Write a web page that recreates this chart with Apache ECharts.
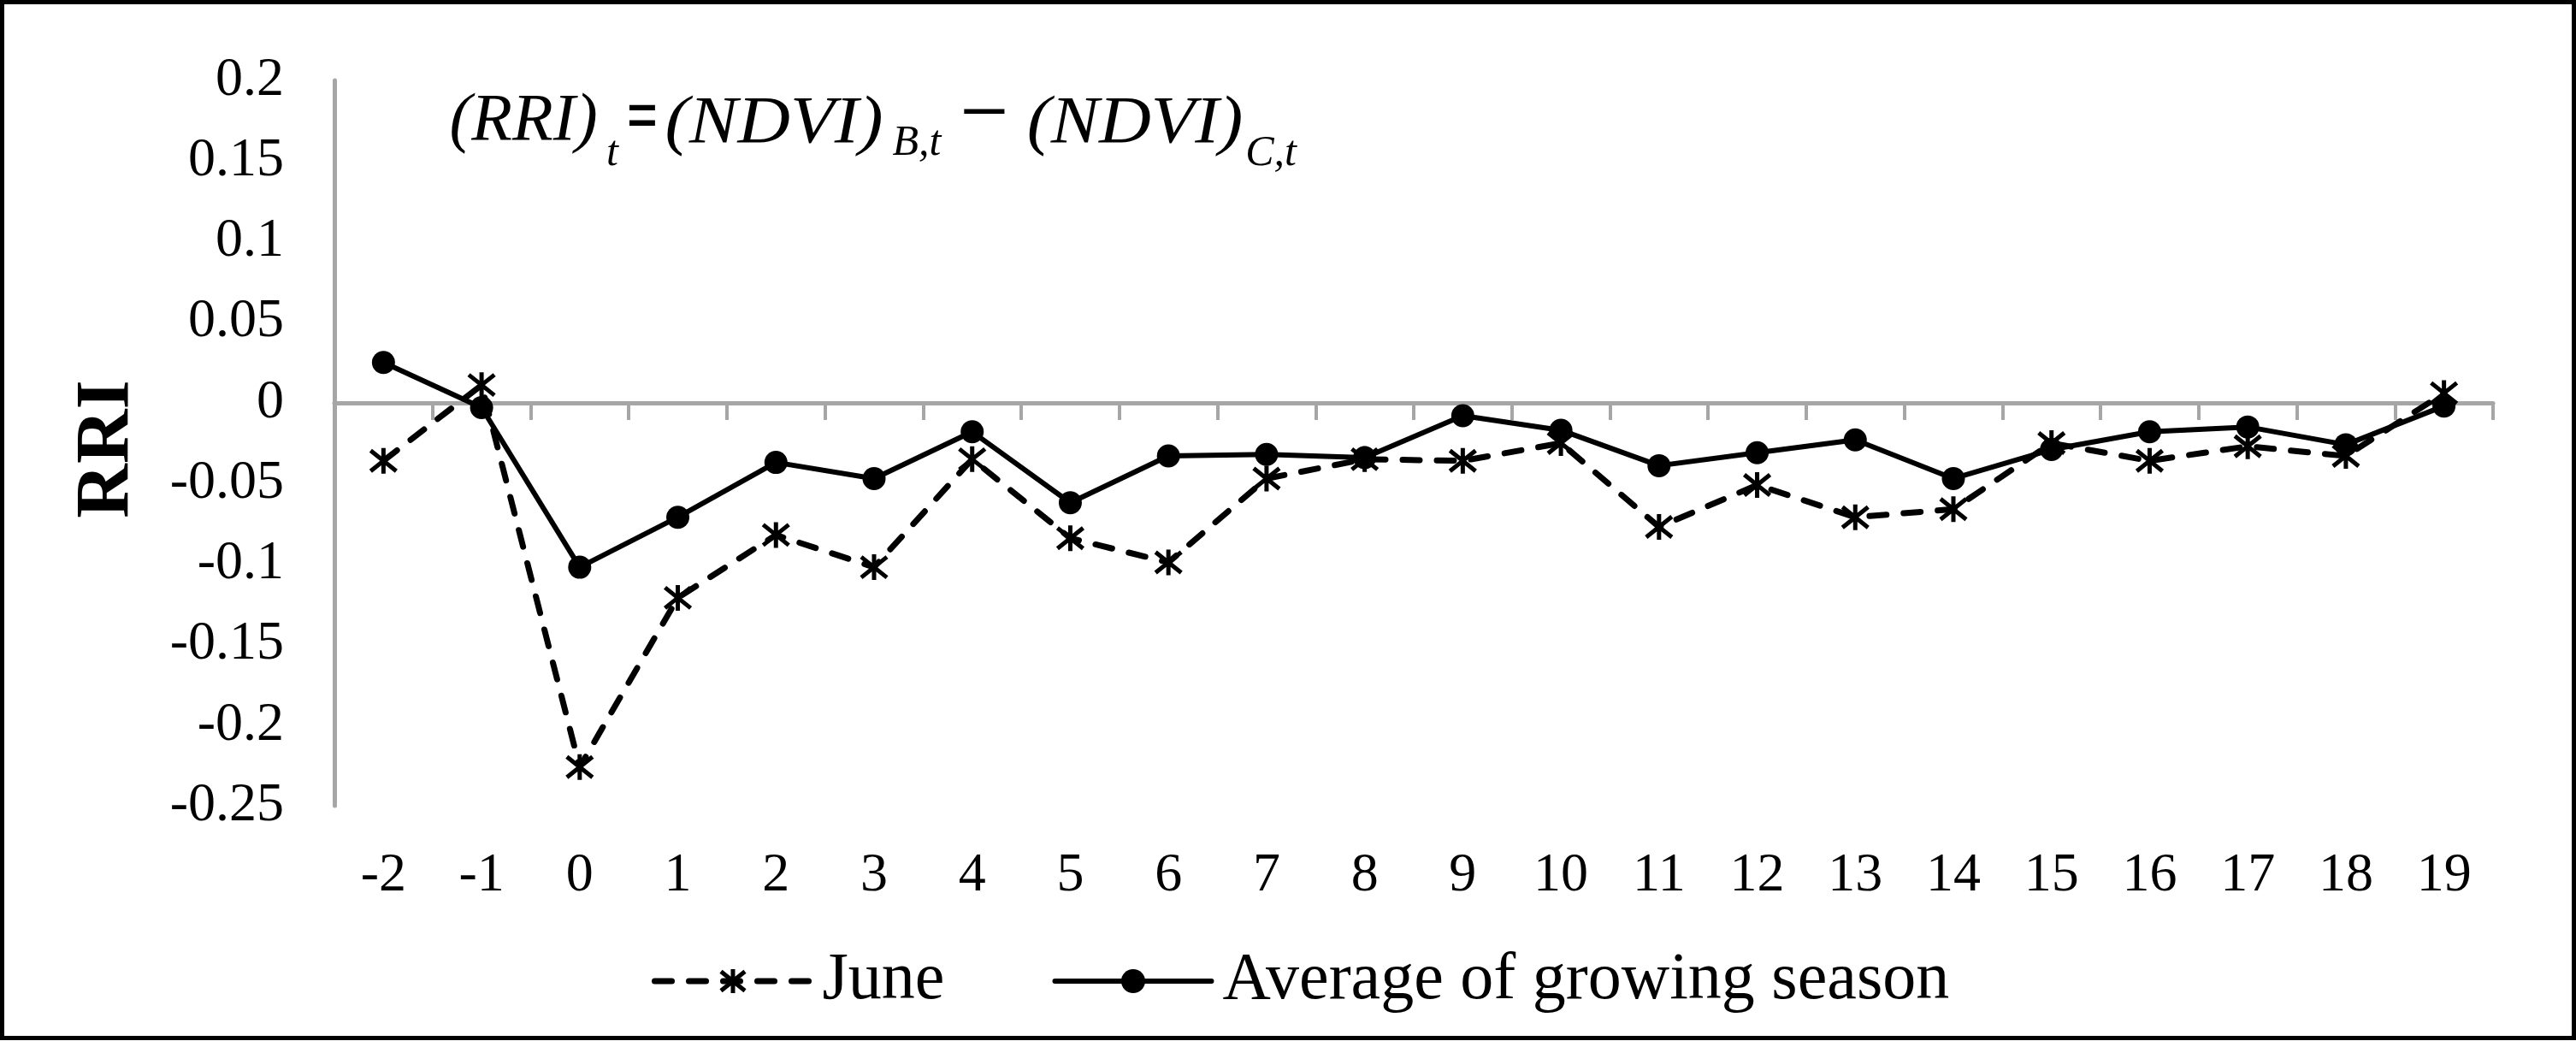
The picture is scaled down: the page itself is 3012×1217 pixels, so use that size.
<!DOCTYPE html>
<html>
<head>
<meta charset="utf-8">
<script src="https://cdn.jsdelivr.net/npm/echarts@6/dist/echarts.min.js"></script>
<style>
html,body{margin:0;padding:0;background:#fff;}
#c{width:3012px;height:1217px;}
</style>
</head>
<body>
<div id="c"></div>
<script>
var categories = ['-2','-1','0','1','2','3','4','5','6','7','8','9','10','11','12','13','14','15','16','17','18','19'];
var juneValues = [-0.036, 0.011, -0.226, -0.121, -0.082, -0.102, -0.035, -0.084, -0.099, -0.047, -0.035, -0.036, -0.025, -0.077, -0.051, -0.071, -0.066, -0.025, -0.036, -0.027, -0.033, 0.006];
var avgValues = [0.025, -0.003, -0.102, -0.071, -0.037, -0.047, -0.018, -0.062, -0.033, -0.032, -0.034, -0.008, -0.017, -0.039, -0.031, -0.023, -0.047, -0.029, -0.018, -0.015, -0.026, -0.002];
var seriesNames = ['June', 'Average of growing season'];
var yMin = -0.25, yMax = 0.2, yStep = 0.05;

var SERIF = '"Liberation Serif", "Times New Roman", serif';
var GRAY = '#a6a6a6';
var STAR = 'path://M2,2L18,18M2,18L18,2M10,0L10,20';

var chart = echarts.init(document.getElementById('c'), null, {renderer: 'canvas'});

function fText(txt, cx, cy, size, sx, weight, style) {
  return {
    type: 'text', silent: true, x: cx, y: cy, scaleX: sx || 1,
    style: {
      text: txt, x: 0, y: 0, fill: '#000',
      font: (style || 'italic') + ' ' + (weight || 'normal') + ' ' + size + 'px ' + SERIF,
      align: 'center', verticalAlign: 'middle'
    }
  };
}

var option = {
  animation: false,
  backgroundColor: '#fff',
  grid: { left: 391, right: 97, top: 94, bottom: 275, containLabel: false, outerBoundsMode: 'none' },
  legend: {
    data: [
      { name: seriesNames[0], itemStyle: { borderWidth: 5, borderColor: '#000' }, lineStyle: { width: 7 } },
      { name: seriesNames[1], itemStyle: { borderWidth: 0 }, lineStyle: { width: 6 } }
    ],
    left: 757, top: 1103,
    itemWidth: 183, itemHeight: 35, itemGap: 126,
    textStyle: { fontFamily: SERIF, fontSize: 78, color: '#000', padding: [0, 0, 0, 8] },
    selectedMode: false
  },
  xAxis: [
    {
      type: 'category', data: categories, boundaryGap: true, position: 'bottom',
      axisLine: { show: true, onZero: true, lineStyle: { color: GRAY, width: 5 } },
      axisTick: { show: true, interval: 0, alignWithLabel: false, length: 20, lineStyle: { color: GRAY, width: 4 } },
      axisLabel: { show: false },
      splitLine: { show: false }
    },
    {
      type: 'category', data: categories, boundaryGap: true, position: 'bottom',
      axisLine: { show: false, onZero: false },
      axisTick: { show: false },
      axisLabel: { show: true, interval: 0, fontFamily: SERIF, fontSize: 64, color: '#000', margin: 50 },
      splitLine: { show: false }
    }
  ],
  yAxis: {
    type: 'value', min: yMin, max: yMax, interval: yStep,
    axisLine: { show: true, lineStyle: { color: GRAY, width: 5 } },
    axisTick: { show: false },
    splitLine: { show: false },
    axisLabel: { fontFamily: SERIF, fontSize: 64, color: '#000', margin: 59,
      formatter: function (v) { return String(Math.round(v * 1000) / 1000); } }
  },
  series: [
    {
      name: seriesNames[0], type: 'line', xAxisIndex: 0, data: juneValues,
      symbol: STAR, symbolSize: 30, showSymbol: true,
      lineStyle: { color: '#000', width: 7, type: [20, 20], cap: 'round' },
      itemStyle: { color: '#000', borderColor: '#000', borderWidth: 5 },
      z: 2
    },
    {
      name: seriesNames[1], type: 'line', xAxisIndex: 0, data: avgValues,
      symbol: 'circle', symbolSize: 27, showSymbol: true,
      lineStyle: { color: '#000', width: 6, type: 'solid', cap: 'round' },
      itemStyle: { color: '#000', borderWidth: 0 },
      z: 3
    }
  ],
  graphic: [
    { type: 'rect', silent: true, shape: { x: 2.5, y: 2.5, width: 3007, height: 1211 },
      style: { fill: 'none', stroke: '#000', lineWidth: 5 } },
    { type: 'text', silent: true, x: 126, y: 525, rotation: Math.PI / 2,
      style: { text: 'RRI', x: 0, y: 0, fill: '#000', font: 'bold 88px ' + SERIF, align: 'center', verticalAlign: 'middle' } },
    fText('(RRI)', 612, 142, 78, 1),
    fText('t', 716, 180, 50),
    fText('=', 751, 141, 92, 0.7, 'bold', 'normal'),
    fText('(NDVI)', 905, 145, 78, 1.09),
    fText('B,t', 1072, 168, 50),
    fText('\u2212', 1151, 136, 78, 1.3, 'bold', 'normal'),
    fText('(NDVI)', 1327, 145, 78, 1.08),
    fText('C,t', 1486, 180, 50)
  ]
};
chart.setOption(option);
</script>
</body>
</html>
